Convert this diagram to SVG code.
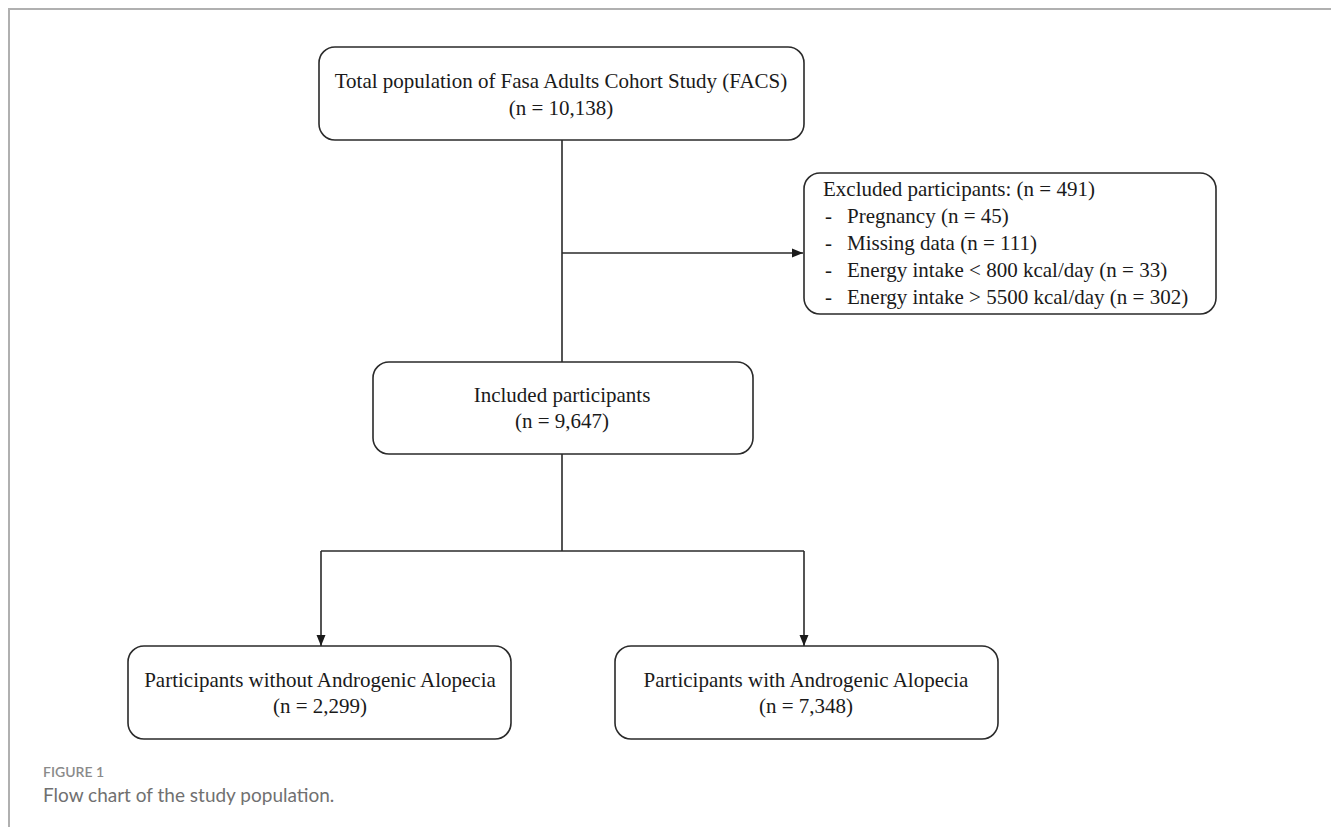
<svg xmlns="http://www.w3.org/2000/svg" width="1331" height="827" viewBox="0 0 1331 827">
<style>
.box{fill:#fff;stroke:#2a2a2a;stroke-width:1.6}
.t{font-family:"Liberation Serif","Times New Roman",serif;font-size:21px;fill:#1a1a1a}
.c{text-anchor:middle}
.ln{fill:none;stroke:#2a2a2a;stroke-width:1.6}
.frame{fill:none;stroke:#b0b0b0;stroke-width:2}
.cap1{font-family:Lato,"Open Sans",sans-serif;font-size:14px;fill:#8a8a8a;font-weight:600}
.cap2{font-family:Lato,"Open Sans",sans-serif;font-size:19px;fill:#707070}
</style>
<defs>
<marker id="arr" viewBox="0 0 11 10" refX="11" refY="5" markerWidth="11" markerHeight="10" markerUnits="userSpaceOnUse" orient="auto">
<path d="M0,0.5 L11,5 L0,9.5 Z" fill="#1a1a1a"/>
</marker>
</defs>
<rect width="1331" height="827" fill="#fff"/>
<path class="frame" d="M9,827 V9 H1331"/>
<g id="connectors">
<path class="ln" d="M562,140 V362"/>
<path class="ln" d="M562,253 H803" marker-end="url(#arr)"/>
<path class="ln" d="M562,454 V551"/>
<path class="ln" d="M321,551 H804"/>
<path class="ln" d="M321,551 V646" marker-end="url(#arr)"/>
<path class="ln" d="M804,551 V646" marker-end="url(#arr)"/>
</g>
<g id="total">
<rect class="box" x="319" y="47" width="485" height="93" rx="16"/>
<text class="t c" x="561" y="88">Total population  of Fasa Adults  Cohort Study  (FACS)</text>
<text class="t c" x="561" y="115">(n = 10,138)</text>
</g>
<g id="excluded">
<rect class="box" x="804" y="173" width="412" height="141" rx="16"/>
<text class="t" x="823" y="196">Excluded participants: (n = 491)</text>
<text class="t" x="825" y="223">-</text><text class="t" x="847" y="223">Pregnancy (n = 45)</text>
<text class="t" x="825" y="250">-</text><text class="t" x="847" y="250">Missing data (n = 111)</text>
<text class="t" x="825" y="277">-</text><text class="t" x="847" y="277">Energy intake &lt; 800 kcal/day (n = 33)</text>
<text class="t" x="825" y="304">-</text><text class="t" x="847" y="304">Energy intake &gt; 5500 kcal/day (n = 302)</text>
</g>
<g id="included">
<rect class="box" x="373" y="362" width="380" height="92" rx="16"/>
<text class="t c" x="562" y="402">Included participants</text>
<text class="t c" x="562" y="428">(n = 9,647)</text>
</g>
<g id="without">
<rect class="box" x="128" y="646" width="383" height="93" rx="16"/>
<text class="t c" x="320" y="687" font-size="20.5">Participants without Androgenic Alopecia</text>
<text class="t c" x="320" y="713">(n = 2,299)</text>
</g>
<g id="with">
<rect class="box" x="615" y="646" width="383" height="93" rx="16"/>
<text class="t c" x="806" y="687" font-size="20.5">Participants with Androgenic Alopecia</text>
<text class="t c" x="806" y="713">(n = 7,348)</text>
</g>
<g id="caption">
<text class="cap1" x="43" y="777">FIGURE 1</text>
<text class="cap2" x="43" y="802">Flow chart of the study population.</text>
</g>
</svg>
